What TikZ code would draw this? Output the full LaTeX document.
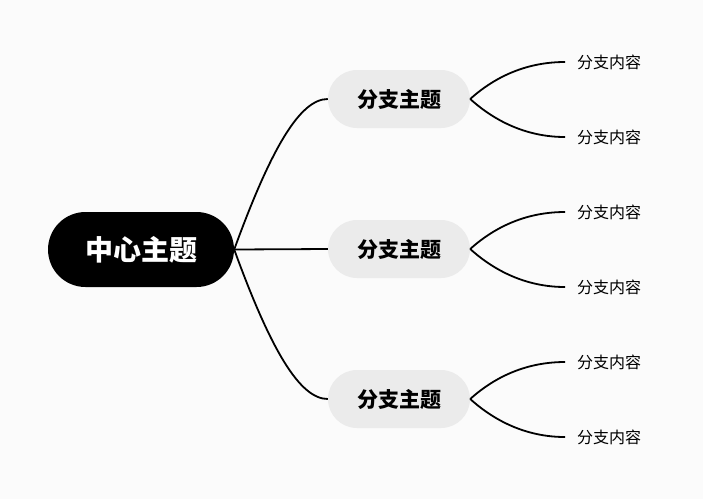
\documentclass[tikz,border=0pt]{standalone}
\usepackage{fontspec}
\setmainfont{Noto Sans CJK SC}
\usetikzlibrary{shapes.misc,positioning}

\definecolor{bgcol}{HTML}{FBFBFB}
\definecolor{branchfill}{HTML}{EBEBEB}

\tikzset{
  centertopic/.style={rounded rectangle,fill=black,text=white,font=\fontsize{28}{32}\selectfont\bfseries,minimum width=186pt,minimum height=75pt,inner sep=0pt},
  branchtopic/.style={rounded rectangle,fill=branchfill,text=black,font=\fontsize{21}{25}\selectfont\bfseries,minimum width=142pt,minimum height=58pt,inner sep=0pt},
  leaftext/.style={anchor=west,font=\fontsize{16}{19}\selectfont,inner xsep=12pt,inner ysep=0pt},
  link/.style={line width=1.8pt,black},
  mainup/.style={out=70,in=180,out distance=107pt,in distance=28pt},
  maindown/.style={out=-70,in=180,out distance=107pt,in distance=28pt},
  leafup/.style={out=42,in=180,out distance=36pt,in distance=36pt},
  leafdown/.style={out=-42,in=180,out distance=36pt,in distance=36pt}
}

\begin{document}
\begin{tikzpicture}[x=1pt,y=-1pt]
\fill[bgcol] (0,0) rectangle (703,499);
\useasboundingbox (0,0) rectangle (703,499);

% Central topic
\node[centertopic] (center) at (141,249.5) {中心主题};

% Branch topics
\node[branchtopic] (b1) at (399,99) {分支主题};
\node[branchtopic] (b2) at (399,249) {分支主题};
\node[branchtopic] (b3) at (399,399) {分支主题};

% Leaf contents
\node[leaftext] (l1) at (565,62) {分支内容};
\node[leaftext] (l2) at (565,137) {分支内容};
\node[leaftext] (l3) at (565,212) {分支内容};
\node[leaftext] (l4) at (565,287) {分支内容};
\node[leaftext] (l5) at (565,362) {分支内容};
\node[leaftext] (l6) at (565,437) {分支内容};

% Center to branches
\draw[link] (center.east) to[mainup] (b1.west);
\draw[link] (center.east) -- (b2.west);
\draw[link] (center.east) to[maindown] (b3.west);

% Branches to leaves
\draw[link] (b1.east) to[leafup] (l1.west);
\draw[link] (b1.east) to[leafdown] (l2.west);
\draw[link] (b2.east) to[leafup] (l3.west);
\draw[link] (b2.east) to[leafdown] (l4.west);
\draw[link] (b3.east) to[leafup] (l5.west);
\draw[link] (b3.east) to[leafdown] (l6.west);

\end{tikzpicture}
\end{document}
